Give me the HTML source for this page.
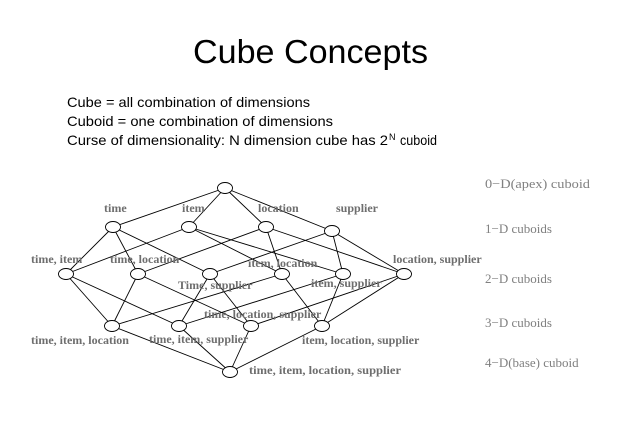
<!DOCTYPE html>
<html><head><meta charset="utf-8"><style>
html,body{margin:0;padding:0;background:#fff;}
svg{display:block;}
.t{font-family:"Liberation Sans",sans-serif;fill:#000;}
.l{font-family:"Liberation Serif",serif;font-weight:bold;font-size:12px;fill:#6e6e6e;}
.r{font-family:"Liberation Serif",serif;font-size:13px;fill:#808080;}
</style></head><body>
<svg width="623" height="443" viewBox="0 0 623 443" xmlns="http://www.w3.org/2000/svg">
<text class="t" x="193" y="63" font-size="33" textLength="235" lengthAdjust="spacingAndGlyphs">Cube Concepts</text>
<text class="t" x="67" y="107" font-size="14" textLength="243" lengthAdjust="spacingAndGlyphs">Cube = all combination of dimensions</text>
<text class="t" x="67" y="126" font-size="14" textLength="266" lengthAdjust="spacingAndGlyphs">Cuboid = one combination of dimensions</text>
<text class="t" x="67" y="145" font-size="14" textLength="321" lengthAdjust="spacingAndGlyphs">Curse of dimensionality: N dimension cube has 2</text>
<text class="t" x="389" y="140" font-size="9">N</text>
<text class="t" x="400" y="145" font-size="14" textLength="37" lengthAdjust="spacingAndGlyphs">cuboid</text>

<g stroke="#000" stroke-width="0.9" fill="none">
<line x1="225" y1="188" x2="113" y2="227"/><line x1="225" y1="188" x2="189" y2="227"/>
<line x1="225" y1="188" x2="266" y2="227"/><line x1="225" y1="188" x2="332" y2="231"/>
<line x1="113" y1="227" x2="66" y2="274"/><line x1="113" y1="227" x2="138" y2="274"/><line x1="113" y1="227" x2="210" y2="274"/>
<line x1="189" y1="227" x2="66" y2="274"/><line x1="189" y1="227" x2="282" y2="274"/><line x1="189" y1="227" x2="343" y2="274"/>
<line x1="266" y1="227" x2="138" y2="274"/><line x1="266" y1="227" x2="282" y2="274"/><line x1="266" y1="227" x2="404" y2="274"/>
<line x1="332" y1="231" x2="210" y2="274"/><line x1="332" y1="231" x2="343" y2="274"/><line x1="332" y1="231" x2="404" y2="274"/>
<line x1="66" y1="274" x2="112" y2="326"/><line x1="66" y1="274" x2="179" y2="326"/>
<line x1="138" y1="274" x2="112" y2="326"/><line x1="138" y1="274" x2="251" y2="326"/>
<line x1="210" y1="274" x2="179" y2="326"/><line x1="210" y1="274" x2="251" y2="326"/>
<line x1="282" y1="274" x2="112" y2="326"/><line x1="282" y1="274" x2="322" y2="326"/>
<line x1="343" y1="274" x2="179" y2="326"/><line x1="343" y1="274" x2="322" y2="326"/>
<line x1="404" y1="274" x2="251" y2="326"/><line x1="404" y1="274" x2="322" y2="326"/>
<line x1="112" y1="326" x2="230" y2="372"/><line x1="179" y1="326" x2="230" y2="372"/>
<line x1="251" y1="326" x2="230" y2="372"/><line x1="322" y1="326" x2="230" y2="372"/>
</g>
<g stroke="#000" stroke-width="0.9" fill="#fff">
<ellipse cx="225" cy="188" rx="7.5" ry="5.5"/>
<ellipse cx="113" cy="227" rx="7.5" ry="5.5"/><ellipse cx="189" cy="227" rx="7.5" ry="5.5"/>
<ellipse cx="266" cy="227" rx="7.5" ry="5.5"/><ellipse cx="332" cy="231" rx="7.5" ry="5.5"/>
<ellipse cx="66" cy="274" rx="7.5" ry="5.5"/><ellipse cx="138" cy="274" rx="7.5" ry="5.5"/>
<ellipse cx="210" cy="274" rx="7.5" ry="5.5"/><ellipse cx="282" cy="274" rx="7.5" ry="5.5"/>
<ellipse cx="343" cy="274" rx="7.5" ry="5.5"/><ellipse cx="404" cy="274" rx="7.5" ry="5.5"/>
<ellipse cx="112" cy="326" rx="7.5" ry="5.5"/><ellipse cx="179" cy="326" rx="7.5" ry="5.5"/>
<ellipse cx="251" cy="326" rx="7.5" ry="5.5"/><ellipse cx="322" cy="326" rx="7.5" ry="5.5"/>
<ellipse cx="230" cy="372" rx="7.5" ry="5.5"/>
</g>
<text class="l" x="104" y="212">time</text>
<text class="l" x="182" y="212">item</text>
<text class="l" x="258" y="212">location</text>
<text class="l" x="336" y="212">supplier</text>
<text class="l" x="31" y="263">time, item</text>
<text class="l" x="110" y="263">time, location</text>
<text class="l" x="248" y="267">item, location</text>
<text class="l" x="393" y="263">location, supplier</text>
<text class="l" x="178" y="289">Time, supplier</text>
<text class="l" x="311" y="287">item, supplier</text>
<text class="l" x="204" y="318">time, location, supplier</text>
<text class="l" x="31" y="344">time, item, location</text>
<text class="l" x="149" y="343">time, item, supplier</text>
<text class="l" x="302" y="344">item, location, supplier</text>
<text class="l" x="249" y="374" textLength="152" lengthAdjust="spacingAndGlyphs">time, item, location, supplier</text>

<text class="r" x="485" y="188" textLength="105" lengthAdjust="spacingAndGlyphs">0−D(apex) cuboid</text>
<text class="r" x="485" y="233">1−D cuboids</text>
<text class="r" x="485" y="283">2−D cuboids</text>
<text class="r" x="485" y="327">3−D cuboids</text>
<text class="r" x="485" y="367">4−D(base) cuboid</text>
</svg>
</body></html>
